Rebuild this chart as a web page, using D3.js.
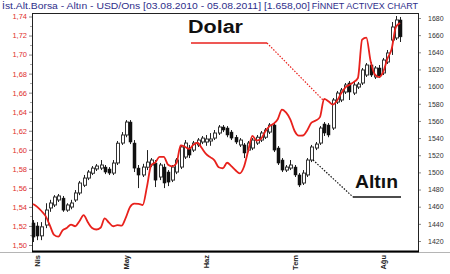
<!DOCTYPE html>
<html>
<head>
<meta charset="utf-8">
<script src="https://cdn.jsdelivr.net/npm/d3@7/dist/d3.min.js"></script>
<style>
  body { margin: 0; background: #fff; }
  svg { font-family: "Liberation Sans", Arial, sans-serif; display: block; }
</style>
</head>
<body>
<div id="chart-area"></div>
<script>
// gold candles (USD/oz), one per trading day, Apr-Aug 2011
var open  = [1441,1437.5,1426,1438.6,1458.5,1462,1467.8,1470,1456,1459.6,1467.8,1476,1485,1493.4,1499,1504,1505,1506.2,1503.9,1499.2,
             1511,1534.2,1543.6,1558.7,1534.2,1505,1497,1506,1508.6,1510.9,1494.6,1506.2,1500.4,1491,1500.4,1506.2,1517.9,1528.4,1526,1532,
             1535.4,1535.4,1536.6,1540,1545.9,1552.9,1551.7,1547,1541,1532,1532,1526,1528.4,1534.2,1537.7,1541,1547,1555.2,1528.4,1514.4,
             1502.7,1505,1506.2,1497,1487.6,1497,1514.4,1528.4,1534.2,1556.4,1555.2,1551.7,1582,1584.4,1593.7,1604.2,1592.5,1599.5,1604.2,1613.5,
             1625.2,1611.2,1621.7,1615.9,1628.7,1654.3,1656.7,1677.7];
var high  = [1444.4,1442,1442,1464,1468,1473.5,1474.8,1472.5,1464,1468,1479.4,1490,1497,1502.7,1507.4,1509.7,1514.4,1508.6,1506.2,1514.4,
             1536.6,1547,1561,1561,1537.7,1508.6,1510,1526,1516.7,1514.4,1511,1510,1502.7,1508.6,1516.7,1532,1537.7,1532,1536.6,1540,
             1542.4,1543.6,1545.8,1549.4,1555.2,1555.2,1554,1549.4,1543.6,1540,1534.2,1536.6,1540,1543.6,1548.2,1551.7,1557.5,1557.5,1530.7,1516.7,
             1508.6,1514.4,1508.6,1499.2,1502.7,1516.7,1532,1535.4,1554,1558.7,1557.5,1586.7,1594.9,1598.4,1604.2,1606.5,1605.4,1605.4,1621.7,1627.5,
             1628.7,1624,1625.2,1633.4,1642.7,1675.3,1682.3,1681.2];
var low   = [1418.8,1421,1421,1435,1454,1459.6,1465.5,1454,1454,1457,1465.5,1473.5,1482.9,1491,1496.9,1501.6,1502.7,1498,1496.9,1496.9,
             1508.6,1532,1541,1533,1500.4,1481.7,1494.6,1502.7,1506.2,1482.9,1491,1481.7,1484,1488.7,1498,1503.9,1515.6,1516.7,1523.7,1529.6,
             1533,1531,1531,1537.7,1543.6,1547,1541,1537.7,1533,1529.6,1516.7,1523.7,1526,1532,1535.4,1538.9,1544.7,1523.7,1508.6,1500.4,
             1500.4,1502.7,1494.6,1482.9,1485.3,1494.6,1512,1526,1532,1542.4,1541,1549.4,1579.7,1582,1591.4,1584.4,1590.2,1597.2,1601.9,1611.2,
             1611.2,1608.9,1610,1613.5,1626.4,1636.9,1654.3,1652];
var close = [1424.6,1425.8,1436.5,1456.1,1464.3,1471.3,1472.5,1456,1462,1464.3,1476,1487.6,1493.4,1500.4,1505,1507.4,1508.6,1500.4,1499.2,1510.9,
             1534,1543.6,1558.7,1535.4,1505,1496.9,1506.2,1512,1514.4,1491,1508.6,1487.6,1488.7,1506.2,1514.4,1529.6,1534.2,1520.2,1534.2,1537.7,
             1540,1538.9,1538.9,1545.9,1552.9,1549.4,1543.6,1540,1535.4,1537.7,1522.6,1534.2,1537.7,1541,1545.9,1549.4,1555.2,1526,1510.9,1502.7,
             1506.2,1508.6,1497,1485.3,1499.2,1514.4,1529.6,1533,1551.7,1545.9,1543.6,1584.4,1592.5,1596,1601.9,1593.7,1601.9,1603,1619.4,1625.2,
             1613.5,1621.7,1612.4,1631,1639.2,1669.5,1677.7,1658];

// dollar line (left axis)
var dolar = [1.5430,1.5401,1.5357,1.5303,1.5206,1.5106,1.5088,1.5154,1.5178,1.5215,1.5197,1.5250,1.5314,1.5239,1.5179,1.5163,1.5181,1.5279,1.5235,1.5197,
             1.5208,1.5203,1.5288,1.5399,1.5434,1.5433,1.5420,1.5610,1.5837,1.5869,1.5925,1.5925,1.5843,1.5826,1.5859,1.6046,1.6032,1.6009,1.6052,1.6074,
             1.6018,1.5957,1.5923,1.5889,1.5817,1.5806,1.5864,1.5829,1.5785,1.5752,1.5822,1.5990,1.6146,1.6096,1.6113,1.6189,1.6246,1.6273,1.6321,1.6422,
             1.6390,1.6318,1.6197,1.6148,1.6150,1.6206,1.6286,1.6307,1.6343,1.6535,1.6510,1.6475,1.6512,1.6590,1.6654,1.6682,1.6711,1.6754,1.7156,1.7178,
             1.6934,1.6792,1.6763,1.6818,1.6957,1.7059,1.7290,1.7332];

// month labels and where they start (trading day index)
var months = ["Nis", "May", "Haz", "Tem", "Ağu"];
var monthIdx = [1, 22, 41, 62, 83];

var leftTicks = [1.50,1.52,1.54,1.56,1.58,1.60,1.62,1.64,1.66,1.68,1.70,1.72,1.74];
var rightTicks = [1420,1440,1460,1480,1500,1520,1540,1560,1580,1600,1620,1640,1660,1680];

var width = 450, height = 274;
var plot = {left: 32, right: 418, top: 13, bottom: 251};

var svg = d3.select("#chart-area").append("svg")
    .attr("width", width)
    .attr("height", height);

var xScale = d3.scaleLinear().domain([0, open.length - 1]).range([33, 400.1]);
var yLeft = d3.scaleLinear().domain([1.50, 1.74]).range([245, 16.5]);
var yRight = d3.scaleLinear().domain([1420, 1680]).range([241, 18]);

// grey base line across the whole width
svg.append("line")
    .attr("x1", 0).attr("x2", width)
    .attr("y1", 252.5).attr("y2", 252.5)
    .style("stroke", "#b5b5b5");

// left axis (red labels, comma decimals)
var leftAxis = d3.axisLeft(yLeft)
    .tickValues(leftTicks)
    .tickFormat(function(d) { return d3.format(".2f")(d).replace(".", ","); })
    .tickSize(3).tickPadding(2);
var gL = svg.append("g")
    .attr("transform", "translate(" + plot.left + ",0)")
    .call(leftAxis);
gL.select(".domain").remove();
gL.selectAll("line").style("stroke", "#888");
gL.selectAll("text").style("fill", "#e0302c").style("font-size", "7.5px");

// minor ticks left
svg.append("g").selectAll("line")
    .data(d3.range(1.51, 1.74, 0.02))
    .enter().append("line")
    .attr("x1", plot.left - 2).attr("x2", plot.left)
    .attr("y1", function(d) { return Math.round(yLeft(d)) + 0.5; })
    .attr("y2", function(d) { return Math.round(yLeft(d)) + 0.5; })
    .style("stroke", "#aaa");

// right axis
var rightAxis = d3.axisRight(yRight)
    .tickValues(rightTicks)
    .tickFormat(d3.format("d"))
    .tickSize(3).tickPadding(7);
var gR = svg.append("g")
    .attr("transform", "translate(" + plot.right + ",0)")
    .call(rightAxis);
gR.select(".domain").remove();
gR.selectAll("line").style("stroke", "#888");
gR.selectAll("text").style("fill", "#333").style("font-size", "7px");

// month axis
var xAxis = d3.axisBottom(xScale)
    .tickValues(monthIdx)
    .tickFormat(function(d, i) { return months[i]; })
    .tickSize(0);
var gX = svg.append("g")
    .attr("transform", "translate(0," + plot.bottom + ")")
    .call(xAxis);
gX.select(".domain").remove();
gX.selectAll("text")
    .attr("transform", "rotate(-90)")
    .attr("x", -4)
    .attr("y", 0)
    .attr("dy", ".35em")
    .style("text-anchor", "end")
    .style("font-size", "7.5px")
    .style("font-weight", "bold")
    .style("fill", "#222");

// frame
svg.append("rect")
    .attr("x", plot.left + 0.5).attr("y", plot.top + 0.5)
    .attr("width", plot.right - plot.left).attr("height", plot.bottom - plot.top)
    .style("fill", "none").style("stroke", "#222");
svg.append("line")
    .attr("x1", plot.left).attr("x2", plot.right + 1)
    .attr("y1", plot.bottom + 0.5).attr("y2", plot.bottom + 0.5)
    .style("stroke", "#000").style("stroke-width", 2);

// candles
var days = d3.range(open.length);
var bw = 4;

svg.append("g").selectAll("line")
    .data(days)
    .enter().append("line")
    .attr("x1", function(i) { return Math.round(xScale(i)) + 0.5; })
    .attr("x2", function(i) { return Math.round(xScale(i)) + 0.5; })
    .attr("y1", function(i) { return yRight(high[i]); })
    .attr("y2", function(i) { return yRight(low[i]); })
    .style("stroke", "#222");

svg.append("g").selectAll("rect")
    .data(days)
    .enter().append("rect")
    .attr("x", function(i) { return Math.round(xScale(i)) - 1 + (close[i] >= open[i] ? 0.5 : 0); })
    .attr("y", function(i) { return yRight(Math.max(open[i], close[i])); })
    .attr("width", function(i) { return close[i] >= open[i] ? bw - 1 : bw - 1; })
    .attr("height", function(i) { return Math.max(1, Math.abs(yRight(open[i]) - yRight(close[i]))); })
    .style("fill", function(i) { return close[i] >= open[i] ? "#fff" : "#111"; })
    .style("stroke", function(i) { return close[i] >= open[i] ? "#333" : "#111"; })
    .style("stroke-width", function(i) { return close[i] >= open[i] ? 1 : 0.5; });

// dollar line
var line = d3.line()
    .x(function(d, i) { return xScale(i); })
    .y(function(d) { return yLeft(d); })
    .curve(d3.curveMonotoneX);
svg.append("path")
    .datum(dolar)
    .attr("d", line)
    .style("fill", "none")
    .style("stroke", "#e8211c")
    .style("stroke-width", 1.8);

// title
svg.append("text")
    .attr("x", 2).attr("y", 9)
    .attr("textLength", 308).attr("lengthAdjust", "spacingAndGlyphs")
    .text("İst.Alt.Borsa - Altın - USD/Ons  [03.08.2010 - 05.08.2011]  [1.658,00]")
    .style("font-size", "9px")
    .style("fill", "#2e2e8a");
svg.append("text")
    .attr("x", 418).attr("y", 9)
    .attr("text-anchor", "end")
    .text("FİNNET ACTIVEX CHART")
    .style("font-size", "9px")
    .style("fill", "#2e2e8a");

// Dolar callout
svg.append("text")
    .attr("x", 188).attr("y", 33)
    .attr("textLength", 55).attr("lengthAdjust", "spacingAndGlyphs")
    .text("Dolar")
    .style("font-size", "18px").style("font-weight", "bold").style("fill", "#111");
svg.append("line")
    .attr("x1", 191).attr("x2", 267).attr("y1", 43).attr("y2", 43)
    .style("stroke", "#e8211c").style("stroke-width", 1.5);
svg.append("line")
    .attr("x1", 267).attr("x2", 323).attr("y1", 43).attr("y2", 100)
    .style("stroke", "#e8211c").style("stroke-width", 1.2).style("stroke-dasharray", "1.5,1.5");

// Altın callout
svg.append("text")
    .attr("x", 355).attr("y", 188)
    .attr("textLength", 43).attr("lengthAdjust", "spacingAndGlyphs")
    .text("Altın")
    .style("font-size", "18px").style("font-weight", "bold").style("fill", "#111");
svg.append("line")
    .attr("x1", 353).attr("x2", 401).attr("y1", 197).attr("y2", 197)
    .style("stroke", "#111").style("stroke-width", 1.5);
svg.append("line")
    .attr("x1", 313).attr("x2", 353).attr("y1", 160).attr("y2", 197)
    .style("stroke", "#111").style("stroke-width", 1.2).style("stroke-dasharray", "1.5,1.5");
</script>
</body>
</html>
